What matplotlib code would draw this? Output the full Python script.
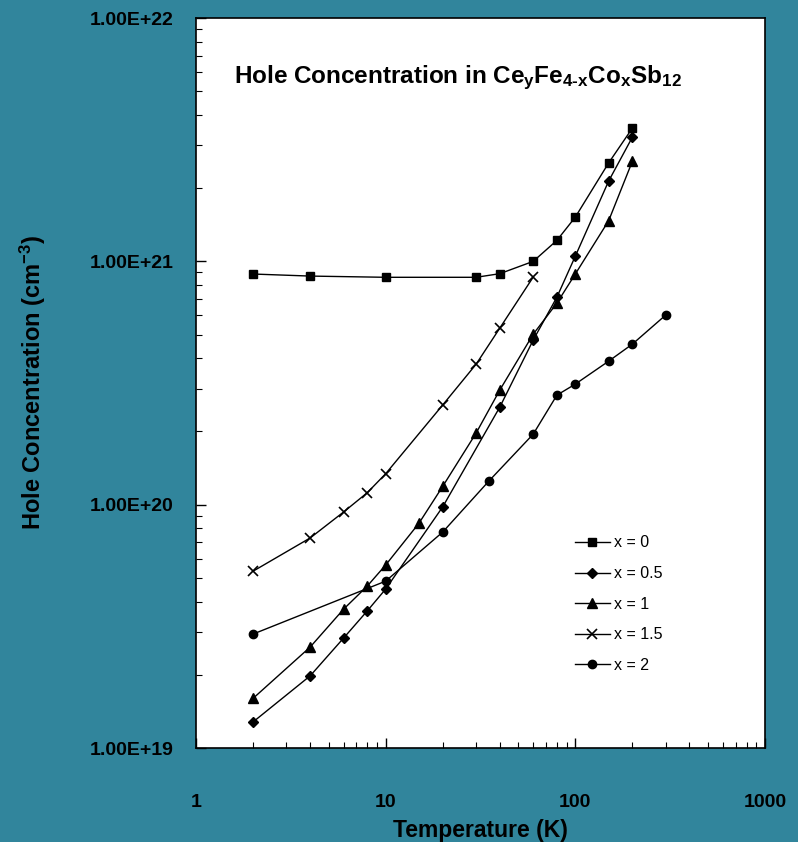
import numpy as np
import matplotlib
matplotlib.use('Agg')
import matplotlib.pyplot as plt
from matplotlib.ticker import LogLocator, FuncFormatter, NullFormatter

plt.rcParams['font.family'] = 'Liberation Sans'
plt.rcParams['mathtext.fontset'] = 'custom'
plt.rcParams['mathtext.rm'] = 'Liberation Sans:bold'
plt.rcParams['mathtext.it'] = 'Liberation Sans:bold'
plt.rcParams['mathtext.bf'] = 'Liberation Sans:bold'

# Data
t_x0 = [2, 4, 10, 30, 40, 60, 80, 100, 150, 200]
n_x0 = [8.87e20, 8.7e20, 8.6e20, 8.6e20, 8.9e20, 1.0e21, 1.22e21, 1.52e21, 2.54e21, 3.53e21]

t_x05 = [2, 4, 6, 8, 10, 20, 40, 60, 80, 100, 150, 200]
n_x05 = [1.28e19, 1.98e19, 2.83e19, 3.66e19, 4.5e19, 9.8e19, 2.52e20, 4.75e20, 7.13e20, 1.05e21, 2.14e21, 3.24e21]

t_x1 = [2, 4, 6, 8, 10, 15, 20, 30, 40, 60, 80, 100, 150, 200]
n_x1 = [1.6e19, 2.6e19, 3.72e19, 4.63e19, 5.65e19, 8.4e19, 1.19e20, 1.97e20, 2.96e20, 5.02e20, 6.74e20, 8.87e20, 1.47e21, 2.58e21]

t_x15 = [2, 4, 6, 8, 10, 20, 30, 40, 60]
n_x15 = [5.33e19, 7.3e19, 9.33e19, 1.12e20, 1.34e20, 2.57e20, 3.78e20, 5.32e20, 8.62e20]

t_x2 = [2, 10, 20, 35, 60, 80, 100, 150, 200, 300]
n_x2 = [2.94e19, 4.85e19, 7.72e19, 1.25e20, 1.95e20, 2.82e20, 3.13e20, 3.89e20, 4.57e20, 6.02e20]

series = [
    (t_x0, n_x0, 's', 6, 'x = 0'),
    (t_x05, n_x05, 'D', 5, 'x = 0.5'),
    (t_x1, n_x1, '^', 7, 'x = 1'),
    (t_x15, n_x15, 'x', 7, 'x = 1.5'),
    (t_x2, n_x2, 'o', 6, 'x = 2'),
]

bg = '#31859c'
fig = plt.figure(figsize=(7.98, 8.42), dpi=100, facecolor=bg)
ax = fig.add_axes([0.2456, 0.1116, 0.713, 0.867])
ax.set_facecolor('white')

for t, n, m, ms, lab in series:
    ax.plot(t, n, color='black', lw=1, marker=m, ms=ms, mfc='black',
            mec='black', mew=1.2 if m == 'x' else 1, label=lab)

ax.set_xscale('log')
ax.set_yscale('log')
ax.set_xlim(1, 1000)
ax.set_ylim(1e19, 1e22)

ax.xaxis.set_major_locator(LogLocator(base=10))
ax.xaxis.set_minor_locator(LogLocator(base=10, subs=np.arange(2, 10)))
ax.xaxis.set_minor_formatter(NullFormatter())
ax.xaxis.set_major_formatter(FuncFormatter(lambda v, p: '{:d}'.format(int(round(v)))))
ax.yaxis.set_major_locator(LogLocator(base=10))
ax.yaxis.set_minor_locator(LogLocator(base=10, subs=np.arange(2, 10)))
ax.yaxis.set_minor_formatter(NullFormatter())
ax.yaxis.set_major_formatter(FuncFormatter(lambda v, p: '1.00E+{:d}'.format(int(round(np.log10(v))))))

ax.tick_params(which='both', direction='in', colors='black')
ax.tick_params(which='major', length=7, width=1)
ax.tick_params(which='minor', length=4, width=0.8)
ax.tick_params(axis='x', which='major', pad=33, labelsize=14)
ax.tick_params(axis='y', which='major', pad=16, labelsize=14)
for lbl in ax.get_xticklabels() + ax.get_yticklabels():
    lbl.set_fontweight('bold')

for s in ax.spines.values():
    s.set_linewidth(1.2)
    s.set_color('black')

ax.set_xlabel('Temperature (K)', fontsize=16.5, fontweight='bold', labelpad=6)
ax.set_ylabel('Hole Concentration (cm$^{-3}$)', fontsize=17, fontweight='bold', labelpad=30)

ax.text(0.067, 0.918, 'Hole Concentration in Ce$_{y}$Fe$_{4\u2010x}$Co$_{x}$Sb$_{12}$',
        transform=ax.transAxes, fontsize=17.5, fontweight='bold', va='center', ha='left')

leg = ax.legend(loc='lower left', bbox_to_anchor=(0.64, 0.083), frameon=False,
                fontsize=11.5, handlelength=2.2, handletextpad=0.3, labelspacing=0.98)

fig.savefig('out.png', dpi=100, facecolor=bg)
